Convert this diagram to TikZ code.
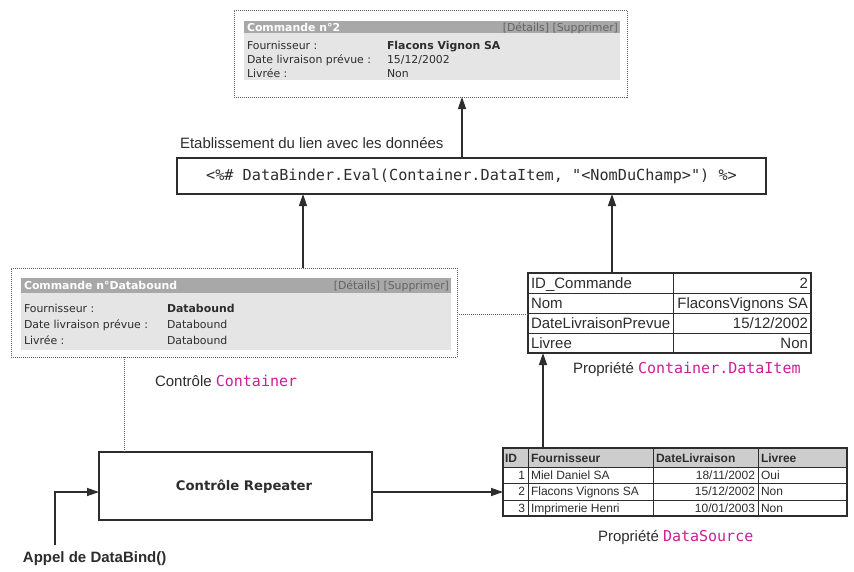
\documentclass[tikz,border=0pt]{standalone}
\usepackage{fontspec}
\setmainfont{Liberation Sans}
\setmonofont{DejaVu Sans Mono}
\newfontfamily\uifont{DejaVu Sans}
\usetikzlibrary{arrows.meta}

\definecolor{ink}{RGB}{45,45,45}
\definecolor{hdrgray}{RGB}{168,168,168}
\definecolor{bodygray}{RGB}{229,229,229}
\definecolor{linkgray}{RGB}{100,100,100}
\definecolor{codepink}{RGB}{205,30,150}
\definecolor{thgray}{RGB}{205,205,205}

\newcommand\pinkcode[1]{{\ttfamily\color{codepink}#1}}

\begin{document}
\begin{tikzpicture}[x=1pt,y=-1pt,
  every node/.style={inner sep=0pt, outer sep=0pt},
  solidbox/.style={draw=ink, line width=1.1pt},
  dotbox/.style={draw=ink!75, line width=0.8pt, dash pattern=on 1pt off 1pt},
  arrowlink/.style={draw=ink, line width=1.3pt, -{Triangle[length=12pt,width=8pt]}},
  dotlink/.style={draw=ink!75, line width=0.8pt, dash pattern=on 1pt off 1pt},
  gridline/.style={draw=ink, line width=1pt},
  tcap/.style={anchor=base west, text=ink, font=\fontsize{15}{18}\selectfont},
  tcode/.style={text=ink, font=\ttfamily\fontsize{15.2}{18}\selectfont},
  tui/.style={anchor=base west, text=ink, font=\uifont\fontsize{10.9}{13}\selectfont},
  tuibold/.style={tui, font=\uifont\bfseries\fontsize{10.9}{13}\selectfont},
  tuihead/.style={tuibold, text=white},
  tuilink/.style={tui, anchor=base east, text=linkgray},
  tcell/.style={anchor=base west, text=ink, font=\fontsize{15}{18}\selectfont},
  tcellr/.style={tcell, anchor=base east},
  tsmall/.style={anchor=base west, text=ink, font=\fontsize{12}{14}\selectfont},
  tsmallr/.style={tsmall, anchor=base east},
  tsmallhead/.style={tsmall, font=\bfseries\fontsize{12}{14}\selectfont},
]
\useasboundingbox[fill=white] (0,0) rectangle (854,571);

% ---- rendered order (top) ----
\node[dotbox, anchor=north west, minimum width=393pt, minimum height=87pt] (order) at (234,10) {};
\fill[hdrgray] (244,21) rectangle (620,33);
\fill[bodygray] (244,33) rectangle (620,80);
\node[tuihead] (orderTitle) at (247,31) {Commande n°2};
\node[tuilink] (orderLinks) at (618,31) {[Détails] [Supprimer]};
\node[tui] (orderK1) at (247,49) {Fournisseur :};
\node[tuibold] (orderV1) at (387,49) {Flacons Vignon SA};
\node[tui] (orderK2) at (247,63) {Date livraison prévue :};
\node[tui] (orderV2) at (387,63) {15/12/2002};
\node[tui] (orderK3) at (247,77) {Livrée :};
\node[tui] (orderV3) at (387,77) {Non};

% ---- binding expression ----
\node[tcap] (bindLabel) at (180,148) {Etablissement du lien avec les données};
\node[solidbox, tcode, minimum width=589pt, minimum height=36pt] (eval) at (471.5,176)
  {<\%\# DataBinder.Eval(Container.DataItem, "<NomDuChamp>") \%>};

% ---- item template (Container) ----
\node[dotbox, anchor=north west, minimum width=446pt, minimum height=89pt] (panel) at (11,268) {};
\fill[hdrgray] (21,278) rectangle (451,293);
\fill[bodygray] (21,293) rectangle (451,350);
\node[tuihead] (panelTitle) at (24,289.5) {Commande n°Databound};
\node[tuilink] (panelLinks) at (449,289.5) {[Détails] [Supprimer]};
\node[tui] (panelK1) at (24,312) {Fournisseur :};
\node[tuibold] (panelV1) at (167,312) {Databound};
\node[tui] (panelK2) at (24,328) {Date livraison prévue :};
\node[tui] (panelV2) at (167,328) {Databound};
\node[tui] (panelK3) at (24,344) {Livrée :};
\node[tui] (panelV3) at (167,344) {Databound};
\node[tcap] (panelCap) at (155,386) {Contrôle \pinkcode{Container}};

% ---- DataItem record ----
\node[solidbox, anchor=north west, minimum width=283pt, minimum height=80pt] (item) at (528,273) {};
\draw[gridline] (528,293) -- (811,293) (528,313) -- (811,313) (528,333) -- (811,333)
  (673,273) -- (673,353);
\node[tcell] (itemK1) at (531,288.4) {ID\_Commande};
\node[tcellr] (itemV1) at (808,288.4) {2};
\node[tcell] (itemK2) at (531,308.4) {Nom};
\node[tcellr] (itemV2) at (808,308.4) {FlaconsVignons SA};
\node[tcell] (itemK3) at (531,328.4) {DateLivraisonPrevue};
\node[tcellr] (itemV3) at (808,328.4) {15/12/2002};
\node[tcell] (itemK4) at (531,348.4) {Livree};
\node[tcellr] (itemV4) at (808,348.4) {Non};
\node[tcap] (itemCap) at (573,373) {Propriété \pinkcode{Container.DataItem}};

% ---- DataSource table ----
\node[solidbox, fill=white, anchor=north west, minimum width=344pt, minimum height=68pt] (source) at (503,448) {};
\fill[thgray] (503.5,448.5) rectangle (846.5,467);
\draw[gridline] (503,467) -- (847,467) (503,483) -- (847,483) (503,500) -- (847,500)
  (528,448) -- (528,516) (653,448) -- (653,516) (758,448) -- (758,516);
\draw[solidbox] (503,448) rectangle (847,516);
\node[tsmallhead] (srcH1) at (505,462) {ID};
\node[tsmallhead] (srcH2) at (531,462) {Fournisseur};
\node[tsmallhead] (srcH3) at (656,462) {DateLivraison};
\node[tsmallhead] (srcH4) at (761,462) {Livree};
\node[tsmallr] (srcA1) at (525,479.3) {1};
\node[tsmall] (srcA2) at (531,479.3) {Miel Daniel SA};
\node[tsmallr] (srcA3) at (755,479.3) {18/11/2002};
\node[tsmall] (srcA4) at (761,479.3) {Oui};
\node[tsmallr] (srcB1) at (525,495.8) {2};
\node[tsmall] (srcB2) at (531,495.8) {Flacons Vignons SA};
\node[tsmallr] (srcB3) at (755,495.8) {15/12/2002};
\node[tsmall] (srcB4) at (761,495.8) {Non};
\node[tsmallr] (srcC1) at (525,512.3) {3};
\node[tsmall] (srcC2) at (531,512.3) {Imprimerie Henri};
\node[tsmallr] (srcC3) at (755,512.3) {10/01/2003};
\node[tsmall] (srcC4) at (761,512.3) {Non};
\node[tcap] (srcCap) at (598,541) {Propriété \pinkcode{DataSource}};

% ---- Repeater control ----
\node[solidbox, anchor=north west, minimum width=273pt, minimum height=68pt] (repeater) at (99,452) {};
\node[text=ink, font=\uifont\bfseries\fontsize{13.2}{16}\selectfont] (repLabel) at (244,487) {Contrôle Repeater};
\coordinate (call) at (55,545);
\node[anchor=base west, text=ink, font=\bfseries\fontsize{15}{18}\selectfont] (callLabel) at (23,562) {Appel de DataBind()};

% ---- connectors ----
\coordinate (xA) at (462,0);
\coordinate (xB) at (303,0);
\coordinate (xC) at (612,0);
\coordinate (xD) at (543,0);
\coordinate (xF) at (124,0);
\coordinate (yE) at (0,492);
\coordinate (yG) at (0,314);
\draw[arrowlink] (eval.north -| xA) -- (order.south -| xA);
\draw[arrowlink] (panel.north -| xB) -- (eval.south -| xB);
\draw[arrowlink] (item.north -| xC) -- (eval.south -| xC);
\draw[arrowlink] (source.north -| xD) -- (item.south -| xD);
\draw[arrowlink] (repeater.east |- yE) -- (source.west |- yE);
\draw[arrowlink] (call) |- (repeater.west |- yE);
\draw[dotlink] (panel.south -| xF) -- (repeater.north -| xF);
\draw[dotlink] (panel.east |- yG) -- (item.west |- yG);
\end{tikzpicture}
\end{document}
